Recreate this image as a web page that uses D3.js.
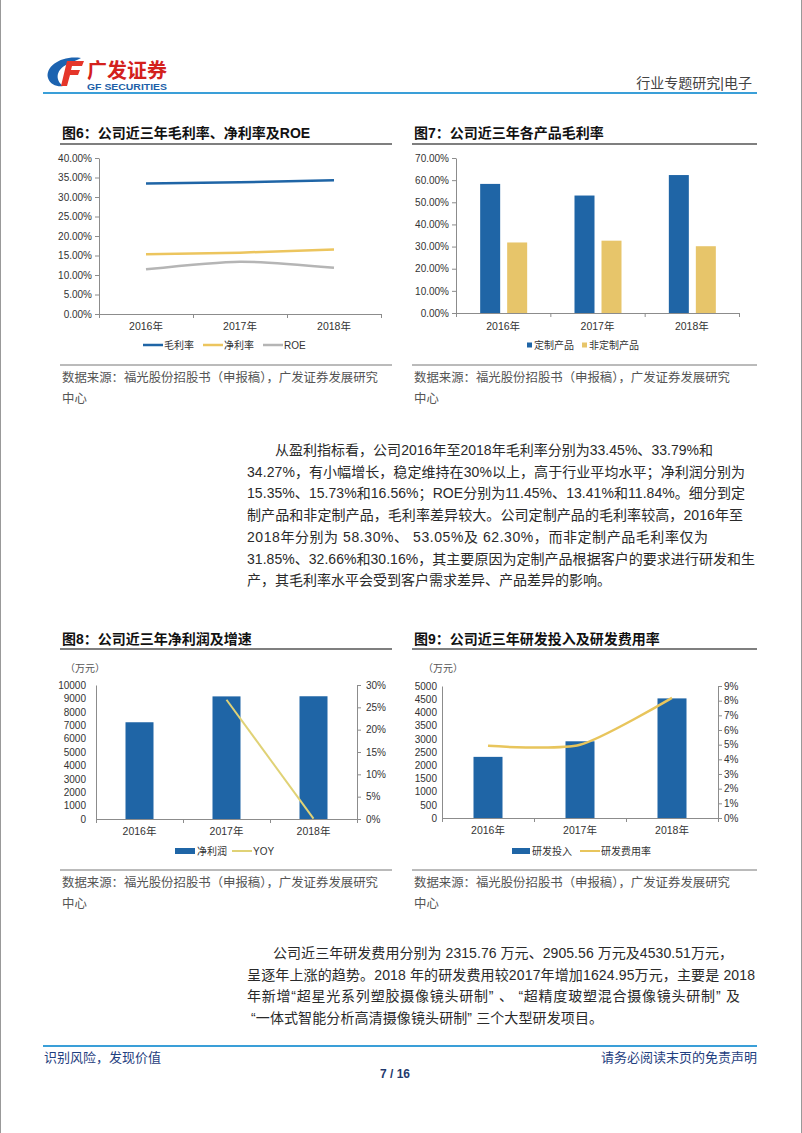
<!DOCTYPE html>
<html><head><meta charset="utf-8">
<script src="https://cdn.jsdelivr.net/npm/d3@7"></script>
<style>
body{margin:0;background:#fff;}
svg{display:block;}
text{font-family:"Liberation Sans","Noto Sans CJK SC",sans-serif;}
</style></head><body>
<svg id="page" width="802" height="1133"></svg>
<script>
// ---------- data ----------
const years = ["2016年", "2017年", "2018年"];
const grossMargin = [33.45, 33.79, 34.27];
const netMargin = [15.35, 15.73, 16.56];
const roe = [11.45, 13.41, 11.84];
const customMargin = [58.30, 53.05, 62.30];
const nonCustomMargin = [31.85, 32.66, 30.16];
const netProfit = [7220, 9150, 9160];
const netProfitYoy = [null, 26.7, 0.1];
const rdInvest = [2315.76, 2905.56, 4530.51];
const rdRate = [4.92, 4.99, 8.19];

const ticks6 = [0, 5, 10, 15, 20, 25, 30, 35, 40];
const ticks7 = [0, 10, 20, 30, 40, 50, 60, 70];
const ticks8L = [0, 1000, 2000, 3000, 4000, 5000, 6000, 7000, 8000, 9000, 10000];
const ticks8R = [0, 5, 10, 15, 20, 25, 30];
const ticks9L = [0, 500, 1000, 1500, 2000, 2500, 3000, 3500, 4000, 4500, 5000];
const ticks9R = [0, 1, 2, 3, 4, 5, 6, 7, 8, 9];

const titles = ["图6：公司近三年毛利率、净利率及ROE", "图7：公司近三年各产品毛利率", "图8：公司近三年净利润及增速", "图9：公司近三年研发投入及研发费用率"];
const sourceLine1 = "数据来源：福光股份招股书（申报稿），广发证券发展研究";
const sourceLine2 = "中心";

const para1 = [
 "从盈利指标看，公司2016年至2018年毛利率分别为33.45%、33.79%和",
 "34.27%，有小幅增长，稳定维持在30%以上，高于行业平均水平；净利润分别为",
 "15.35%、15.73%和16.56%；ROE分别为11.45%、13.41%和11.84%。细分到定",
 "制产品和非定制产品，毛利率差异较大。公司定制产品的毛利率较高，2016年至",
 "2018年分别为 58.30%、 53.05%及 62.30%，而非定制产品毛利率仅为",
 "31.85%、32.66%和30.16%，其主要原因为定制产品根据客户的要求进行研发和生",
 "产，其毛利率水平会受到客户需求差异、产品差异的影响。"];
const para2 = [
 "公司近三年研发费用分别为 2315.76 万元、2905.56 万元及4530.51万元，",
 "呈逐年上涨的趋势。2018 年的研发费用较2017年增加1624.95万元，主要是 2018",
 "年新增“超星光系列塑胶摄像镜头研制” 、 “超精度玻塑混合摄像镜头研制” 及",
 " “一体式智能分析高清摄像镜头研制” 三个大型研发项目。"];
// measured rendered line widths in the reference (px)
const para1Widths = [438, 498, 498, 496, 461, 508, null];
const para2Widths = [460, 508, 493, 356];

// ---------- styles ----------
const BLUE = "#1f65a6", YEL = "#ecc55e", GRAY = "#b5b5b5", AX = "#8c8c8c", TXT = "#333";
const svg = d3.select("#page");

// page border
svg.append("line").attr("x1",0.5).attr("x2",0.5).attr("y1",0).attr("y2",1133).attr("stroke","#999");
svg.append("line").attr("x1",801.5).attr("x2",801.5).attr("y1",0).attr("y2",1133).attr("stroke","#999");

// ---------- header ----------
const hdr = svg.append("g");
hdr.append("path").attr("d","M81 58 C62 55 45 66 48 78 C50 85 58 87 63 86 C55 80 55 69 70 63 C74 61 78 60 81 58 Z").attr("fill","#1c63b0");
hdr.append("path").attr("d","M67 61 L84 61 L82 66 L72 66 L71 70 L80 70 L78 75 L70 75 L67 86 L61 86 Z").attr("fill","#e5362a");
hdr.append("text").attr("x",87).attr("y",78).attr("font-size",20).attr("font-weight","bold").attr("fill","#d3201c").attr("textLength",80).attr("lengthAdjust","spacingAndGlyphs").text("广发证券");
hdr.append("text").attr("x",87).attr("y",90).attr("font-size",9.5).attr("font-weight","bold").attr("fill","#1c5fa8").attr("textLength",80).attr("lengthAdjust","spacingAndGlyphs").text("GF SECURITIES");
hdr.append("text").attr("x",752).attr("y",88).attr("text-anchor","end").attr("font-size",14).attr("fill","#444").text("行业专题研究|电子");
hdr.append("line").attr("x1",43).attr("x2",757).attr("y1",93).attr("y2",93).attr("stroke","#3a9fd8").attr("stroke-width",2);

// ---------- footer ----------
svg.append("line").attr("x1",43).attr("x2",757).attr("y1",1046).attr("y2",1046).attr("stroke","#3a9fd8").attr("stroke-width",2);
svg.append("text").attr("x",44).attr("y",1062).attr("font-size",13).attr("fill","#1f4080").text("识别风险，发现价值");
svg.append("text").attr("x",757).attr("y",1062).attr("text-anchor","end").attr("font-size",13).attr("fill","#1f4080").text("请务必阅读末页的免责声明");
svg.append("text").attr("x",395).attr("y",1078).attr("text-anchor","middle").attr("font-size",12).attr("font-weight","bold").attr("fill","#1f3a6e").text("7 / 16");

// ---------- paragraphs ----------
function para(lines, widths, firstX, x, y0, dy) {
  lines.forEach((l, i) => {
    const t = svg.append("text").attr("x", i === 0 ? firstX : x).attr("y", y0 + i * dy)
      .attr("font-size", 14).attr("fill", "#2a2a2a").attr("xml:space","preserve").style("white-space","pre").text(l);
    if (widths[i]) t.attr("textLength", widths[i]).attr("lengthAdjust", "spacing");
  });
}
para(para1, para1Widths, 275, 247, 455, 21.7);
para(para2, para2Widths, 273, 247, 958, 21.5);

// ---------- panel frame ----------
function panel(x0, x1, title, titleY, lineY, bottomY, srcY) {
  svg.append("text").attr("x", x0 + 2).attr("y", titleY).attr("font-size", 14).attr("font-weight", "bold").attr("fill", "#111").text(title);
  svg.append("line").attr("x1", x0).attr("x2", x1).attr("y1", lineY).attr("y2", lineY).attr("stroke", "#555").attr("stroke-width", 1.5);
  svg.append("line").attr("x1", x0).attr("x2", x1).attr("y1", bottomY).attr("y2", bottomY).attr("stroke", "#777").attr("stroke-width", 1);
  svg.append("text").attr("x", x0 + 2).attr("y", srcY).attr("font-size", 12.4).attr("fill", "#555").text(sourceLine1);
  svg.append("text").attr("x", x0 + 2).attr("y", srcY + 21).attr("font-size", 12.4).attr("fill", "#555").text(sourceLine2);
}
panel(60, 392, titles[0], 138, 144, 365, 382);
panel(412, 757, titles[1], 138, 144, 365, 382);
panel(60, 392, titles[2], 644, 649, 870, 887);
panel(412, 757, titles[3], 644, 649, 870, 887);

function styleAxis(g) {
  g.selectAll(".domain").attr("stroke", AX);
  g.selectAll(".tick line").attr("stroke", AX);
  g.selectAll(".tick text").attr("fill", TXT).attr("font-size", 10).attr("font-family", "Liberation Sans, sans-serif");
}
function xAxis(band, yPix, labelY) {
  const n = band.domain().length;
  const idx = d3.scaleLinear().domain([0, n]).range(band.range());
  const g = svg.append("g").attr("transform", `translate(0,${yPix})`)
    .call(d3.axisBottom(idx).tickValues(d3.range(n + 1)).tickSize(4).tickSizeOuter(4).tickFormat(""));
  styleAxis(g);
  svg.append("g").selectAll("text").data(band.domain()).join("text")
    .attr("x", d => band(d) + band.bandwidth() / 2).attr("y", labelY).attr("text-anchor", "middle")
    .attr("font-size", 10.5).attr("fill", TXT).text(d => d);
}
function legendLine(x, y, color, label, w) {
  svg.append("line").attr("x1", x).attr("x2", x + 20).attr("y1", y).attr("y2", y).attr("stroke", color).attr("stroke-width", w || 2.5);
  svg.append("text").attr("x", x + 21).attr("y", y + 3.5).attr("font-size", 10).attr("fill", TXT).text(label);
}
function legendRect(x, y, color, label, w, h) {
  svg.append("rect").attr("x", x).attr("y", y - h / 2).attr("width", w).attr("height", h).attr("fill", color);
  svg.append("text").attr("x", x + w + 2).attr("y", y + 3.5).attr("font-size", 10).attr("fill", TXT).text(label);
}

// ---------- Chart 6 ----------
{
  const x = d3.scaleBand().domain(years).range([99, 381]);
  const y = d3.scaleLinear().domain([0, 40]).range([314, 158]);
  const gy = svg.append("g").attr("transform", "translate(99,0)")
    .call(d3.axisLeft(y).tickValues(ticks6).tickSize(4).tickSizeOuter(0).tickPadding(3).tickFormat(d => d.toFixed(2) + "%"));
  styleAxis(gy);
  xAxis(x, 314, 330);
  const cx = (d, i) => x(years[i]) + x.bandwidth() / 2;
  const series = [[grossMargin, BLUE, d3.curveLinear], [netMargin, YEL, d3.curveLinear], [roe, GRAY, d3.curveCardinal.tension(0.3)]];
  series.forEach(([vals, c, cv]) => {
    svg.append("path").datum(vals).attr("fill", "none").attr("stroke", c).attr("stroke-width", 2.5)
      .attr("d", d3.line().x(cx).y(d => y(d)).curve(cv));
  });
  legendLine(143, 345, BLUE, "毛利率");
  legendLine(203, 345, YEL, "净利率");
  legendLine(263, 345, GRAY, "ROE");
}

// ---------- Chart 7 ----------
{
  const x = d3.scaleBand().domain(years).range([456, 739]);
  const y = d3.scaleLinear().domain([0, 70]).range([313, 158]);
  const gy = svg.append("g").attr("transform", "translate(456,0)")
    .call(d3.axisLeft(y).tickValues(ticks7).tickSize(4).tickSizeOuter(0).tickPadding(3).tickFormat(d => d.toFixed(2) + "%"));
  styleAxis(gy);
  const c = d => x(d) + x.bandwidth() / 2;
  svg.append("g").selectAll("rect").data(customMargin).join("rect")
    .attr("x", (d, i) => c(years[i]) - 23).attr("width", 20).attr("y", d => y(d)).attr("height", d => y(0) - y(d)).attr("fill", BLUE);
  svg.append("g").selectAll("rect").data(nonCustomMargin).join("rect")
    .attr("x", (d, i) => c(years[i]) + 4).attr("width", 20).attr("y", d => y(d)).attr("height", d => y(0) - y(d)).attr("fill", "#e7c56a");
  xAxis(x, 313, 330);
  legendRect(527, 345, BLUE, "定制产品", 5, 5);
  legendRect(582, 345, "#e7c56a", "非定制产品", 5, 5);
}

// ---------- Chart 8 ----------
{
  const x = d3.scaleBand().domain(years).range([96, 357]);
  const yL = d3.scaleLinear().domain([0, 10000]).range([819, 685]);
  const yR = d3.scaleLinear().domain([0, 30]).range([819, 685]);
  svg.append("text").attr("x", 65).attr("y", 672).attr("font-size", 10).attr("fill", "#555").text("（万元）");
  const c = d => x(d) + x.bandwidth() / 2;
  svg.append("g").selectAll("rect").data(netProfit).join("rect")
    .attr("x", (d, i) => c(years[i]) - 14).attr("width", 28).attr("y", d => yL(d)).attr("height", d => yL(0) - yL(d)).attr("fill", BLUE);
  const gl = svg.append("g").attr("transform", "translate(96,0)")
    .call(d3.axisLeft(yL).tickValues(ticks8L).tickSize(0).tickSizeOuter(0).tickPadding(10).tickFormat(d => String(d)));
  styleAxis(gl);
  const gr = svg.append("g").attr("transform", "translate(357,0)")
    .call(d3.axisRight(yR).tickValues(ticks8R).tickSize(4).tickSizeOuter(0).tickPadding(5).tickFormat(d => d + "%"));
  styleAxis(gr);
  xAxis(x, 819, 835);
  const pts = netProfitYoy.map((v, i) => [v, i]).filter(p => p[0] !== null);
  svg.append("path").datum(pts).attr("fill", "none").attr("stroke", "#e0d276").attr("stroke-width", 2)
    .attr("d", d3.line().x(p => c(years[p[1]])).y(p => yR(p[0])));
  legendRect(175, 851, BLUE, "净利润", 20, 6);
  legendLine(232, 851, "#e0d276", "YOY", 2);
}

// ---------- Chart 9 ----------
{
  const x = d3.scaleBand().domain(years).range([442, 718]);
  const yL = d3.scaleLinear().domain([0, 5000]).range([818, 686]);
  const yR = d3.scaleLinear().domain([0, 9]).range([818, 686]);
  svg.append("text").attr("x", 423).attr("y", 672).attr("font-size", 10).attr("fill", "#555").text("（万元）");
  const c = d => x(d) + x.bandwidth() / 2;
  svg.append("g").selectAll("rect").data(rdInvest).join("rect")
    .attr("x", (d, i) => c(years[i]) - 14.5).attr("width", 29).attr("y", d => yL(d)).attr("height", d => yL(0) - yL(d)).attr("fill", BLUE);
  const gl = svg.append("g").attr("transform", "translate(442,0)")
    .call(d3.axisLeft(yL).tickValues(ticks9L).tickSize(0).tickSizeOuter(0).tickPadding(5).tickFormat(d => String(d)));
  styleAxis(gl);
  const gr = svg.append("g").attr("transform", "translate(718,0)")
    .call(d3.axisRight(yR).tickValues(ticks9R).tickSize(4).tickSizeOuter(0).tickPadding(2).tickFormat(d => d + "%"));
  styleAxis(gr);
  xAxis(x, 818, 834);
  svg.append("path").datum(rdRate).attr("fill", "none").attr("stroke", "#e8c55c").attr("stroke-width", 2.5)
    .attr("d", d3.line().x((d, i) => c(years[i])).y(d => yR(d)).curve(d3.curveCardinal.tension(0.3)));
  legendRect(512, 851, BLUE, "研发投入", 18, 6);
  legendLine(580, 851, "#e8c55c", "研发费用率", 2);
}
</script>
</body></html>
